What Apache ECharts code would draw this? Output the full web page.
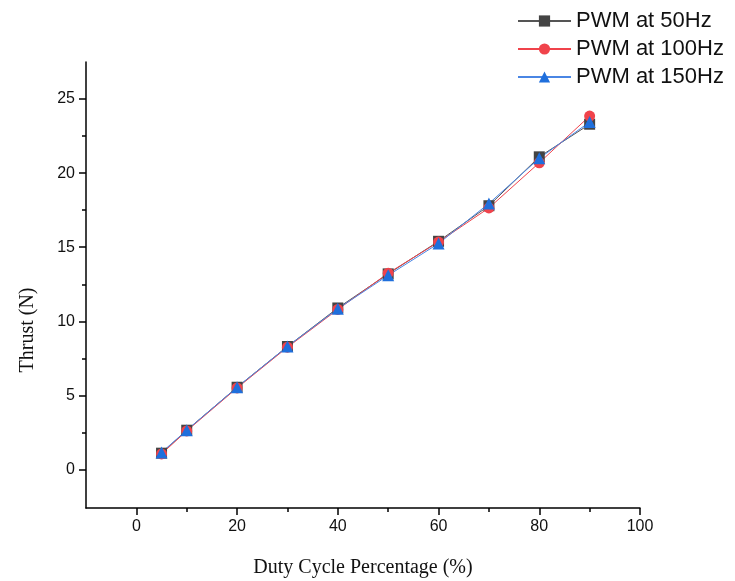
<!DOCTYPE html>
<html>
<head>
<meta charset="utf-8">
<script src="https://cdn.jsdelivr.net/npm/echarts@6/dist/echarts.min.js"></script>
<style>
  html, body { margin: 0; padding: 0; background: #fff; }
  #chart { width: 735px; height: 581px; }
</style>
</head>
<body>
<div id="chart"></div>
<script>
const dutyCycle = [5, 10, 20, 30, 40, 50, 60, 70, 80, 90];
const thrust50 = [1.1, 2.65, 5.55, 8.3, 10.9, 13.2, 15.4, 17.8, 21.1, 23.3];
const thrust100 = [1.05, 2.6, 5.5, 8.25, 10.8, 13.25, 15.35, 17.65, 20.7, 23.85];
const thrust150 = [1.15, 2.65, 5.55, 8.3, 10.85, 13.1, 15.25, 17.95, 21.0, 23.45];
const xMajor = [0, 20, 40, 60, 80, 100];
const xMinor = [10, 30, 50, 70, 90];
const yMajor = [0, 5, 10, 15, 20, 25];
const yMinor = [2.5, 7.5, 12.5, 17.5, 22.5];

const toPairs = ys => dutyCycle.map((x, i) => [x, ys[i]]);

const chart = echarts.init(document.getElementById('chart'));

const labelFont = { fontFamily: 'Liberation Sans, Arial', fontSize: 16, color: '#111' };
const nameFont = { fontFamily: 'Liberation Serif, Times New Roman', fontSize: 20, color: '#111' };
const axisLine = { show: true, onZero: false, lineStyle: { color: '#000', width: 1.5 } };

let option = {
    backgroundColor: '#fff',
    animation: false,
    grid: { left: 86, right: 95, top: 62, bottom: 73, outerBoundsMode: 'none', containLabel: false },
    legend: {
        orient: 'vertical',
        left: 512,
        top: 5,
        itemWidth: 53,
        itemHeight: 14,
        itemGap: 6,
        textStyle: { fontFamily: 'Liberation Sans, Arial', fontSize: 22, color: '#111' },
        data: ['PWM at 50Hz', 'PWM at 100Hz', 'PWM at 150Hz']
    },
    xAxis: [
        {
            type: 'value',
            min: -10,
            max: 100,
            name: 'Duty Cycle Percentage (%)',
            nameLocation: 'middle',
            nameGap: 50,
            nameTextStyle: nameFont,
            axisLine: axisLine,
            axisTick: { show: true, inside: false, length: 7, customValues: xMajor, lineStyle: { color: '#000', width: 1.5 } },
            axisLabel: { customValues: xMajor, margin: 11, ...labelFont },
            splitLine: { show: false }
        },
        {
            type: 'value',
            min: -10,
            max: 100,
            position: 'bottom',
            axisLine: { show: false, onZero: false },
            axisTick: { show: true, length: 4, customValues: xMinor, lineStyle: { color: '#000', width: 1.5 } },
            axisLabel: { show: false },
            splitLine: { show: false }
        }
    ],
    yAxis: [
        {
            type: 'value',
            min: -2.6,
            max: 27.5,
            axisLine: axisLine,
            axisTick: { show: true, length: 7, customValues: yMajor, lineStyle: { color: '#000', width: 1.5 } },
            axisLabel: { customValues: yMajor, margin: 11, ...labelFont },
            splitLine: { show: false }
        },
        {
            type: 'value',
            min: -2.6,
            max: 27.5,
            position: 'left',
            axisLine: { show: false, onZero: false },
            axisTick: { show: true, length: 4, customValues: yMinor, lineStyle: { color: '#000', width: 1.5 } },
            axisLabel: { show: false },
            splitLine: { show: false }
        }
    ],
    graphic: [
        {
            type: 'text',
            x: 28,
            y: 330,
            rotation: Math.PI / 2,
            style: {
                text: 'Thrust (N)',
                font: '20px "Liberation Serif", "Times New Roman", serif',
                fill: '#111',
                align: 'center',
                verticalAlign: 'middle'
            }
        }
    ],
    series: [
        {
            name: 'PWM at 50Hz',
            type: 'line',
            data: toPairs(thrust50),
            symbol: 'rect',
            symbolSize: 11,
            lineStyle: { color: '#555', width: 1 },
            itemStyle: { color: '#444' }
        },
        {
            name: 'PWM at 100Hz',
            type: 'line',
            data: toPairs(thrust100),
            symbol: 'circle',
            symbolSize: 11,
            lineStyle: { color: '#f0434b', width: 1 },
            itemStyle: { color: '#f0434b' }
        },
        {
            name: 'PWM at 150Hz',
            type: 'line',
            data: toPairs(thrust150),
            symbol: 'triangle',
            symbolSize: 12,
            lineStyle: { color: '#4a86e4', width: 1 },
            itemStyle: { color: '#1f6fdc' }
        }
    ]
};
chart.setOption(option);
</script>
</body>
</html>
